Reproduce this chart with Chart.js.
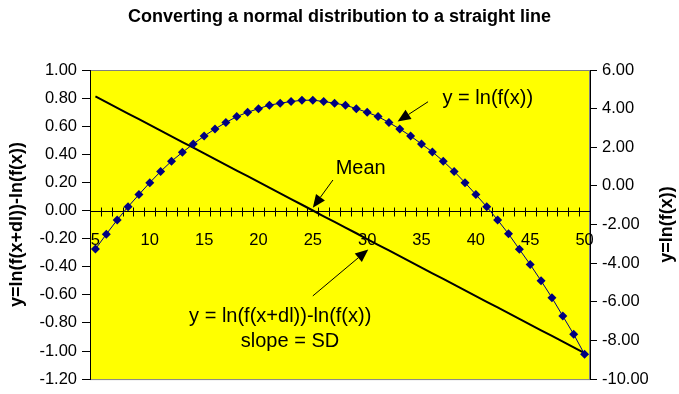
<!DOCTYPE html>
<html>
<head>
<meta charset="utf-8">
<script src="https://cdn.jsdelivr.net/npm/chart.js@4/dist/chart.umd.min.js"></script>
<style>
  html, body { margin: 0; padding: 0; background: #ffffff; }
  #wrap { width: 679px; height: 394px; }
</style>
</head>
<body>
<div id="wrap"><canvas id="c" width="679" height="394"></canvas></div>
<script>
// ---- data ----
const xValues = [5,6,7,8,9,10,11,12,13,14,15,16,17,18,19,20,21,22,23,24,25,26,27,28,29,30,31,32,33,34,35,36,37,38,39,40,41,42,43,44,45,46,47,48,49,50];
const xTickLabels = [5,10,15,20,25,30,35,40,45,50];
// y = ln(f(x))  (right axis)
const lnFValues = [-3.27,-2.50,-1.76,-1.08,-0.45,0.17,0.75,1.28,1.74,2.17,2.58,2.95,3.28,3.59,3.81,4.00,4.18,4.28,4.37,4.43,4.44,4.37,4.28,4.18,4.00,3.81,3.59,3.28,2.95,2.58,2.17,1.76,1.28,0.75,0.17,-0.45,-1.08,-1.76,-2.48,-3.28,-4.07,-4.91,-5.79,-6.74,-7.68,-8.72];
// y = ln(f(x+dl)) - ln(f(x))  (left axis)
const diffValues = [0.812,0.771,0.731,0.690,0.650,0.609,0.568,0.528,0.487,0.447,0.406,0.365,0.325,0.284,0.244,0.203,0.162,0.122,0.081,0.041,0.000,-0.041,-0.081,-0.122,-0.162,-0.203,-0.244,-0.284,-0.325,-0.365,-0.406,-0.447,-0.487,-0.528,-0.568,-0.609,-0.650,-0.690,-0.731,-0.771,-0.812,-0.853,-0.893,-0.934,-0.974,-1.015];

const FONT = '"Liberation Sans", Arial, Helvetica, sans-serif';

// annotations in data coordinates (x value, left-axis value)
const notes = [
  { text: 'y = ln(f(x))', x: 41.1, y: 0.795 },
  { text: 'Mean', x: 29.4, y: 0.30 },
  { text: 'y = ln(f(x+dl))-ln(f(x))', x: 22.0, y: -0.756 },
  { text: 'slope = SD', x: 22.9, y: -0.932 }
];
const arrows = [
  { from: [35.6, 0.774], to: [32.8, 0.633] },
  { from: [26.85, 0.217], to: [25.0, 0.02] },
  { from: [25.0, -0.608], to: [30.1, -0.277] }
];

const fmt2 = v => (Math.abs(v) < 1e-9 ? 0 : v).toFixed(2);

const decorPlugin = {
  id: 'decor',
  beforeDraw(chart) {
    const { ctx, chartArea: a } = chart;
    ctx.save();
    ctx.fillStyle = '#FFFF00';
    ctx.fillRect(a.left, a.top, a.right - a.left, a.bottom - a.top);
    ctx.strokeStyle = '#808080';
    ctx.lineWidth = 1;
    ctx.strokeRect(a.left + 0.5, a.top + 0.5, a.right - a.left - 1, a.bottom - a.top);
    ctx.restore();
  },
  beforeDatasetsDraw(chart) {
    const { ctx, chartArea: a } = chart;
    ctx.save();
    // x axis line at y = 0 with crossing tick marks at category boundaries
    const xs = chart.scales.x, ys = chart.scales.y;
    const y0 = Math.round(ys.getPixelForValue(0)) + 0.5;
    ctx.strokeStyle = '#000000';
    ctx.lineWidth = 1;
    ctx.beginPath();
    ctx.moveTo(a.left, y0); ctx.lineTo(a.right, y0);
    for (let i = 1; i < xValues.length; i++) {
      const px = Math.round(xs.getPixelForValue(i - 0.5)) + 0.5;
      ctx.moveTo(px, y0 - 4); ctx.lineTo(px, y0 + 5);
    }
    ctx.stroke();
    ctx.restore();
  },
  afterDatasetsDraw(chart) {
    const { ctx, chartArea: a } = chart;
    const xs = chart.scales.x, ys = chart.scales.y;
    const P = (x, y) => [xs.getPixelForValue(x - xValues[0]), ys.getPixelForValue(y)];
    ctx.save();
    ctx.fillStyle = '#000000';
    ctx.strokeStyle = '#000000';
    ctx.font = '20px ' + FONT;
    ctx.textAlign = 'center';
    ctx.textBaseline = 'middle';
    notes.forEach(n => { const [px, py] = P(n.x, n.y); ctx.fillText(n.text, px, py); });
    ctx.lineWidth = 1;
    arrows.forEach(ar => {
      const [x1, y1] = P(ar.from[0], ar.from[1]);
      const [x2, y2] = P(ar.to[0], ar.to[1]);
      const ang = Math.atan2(y2 - y1, x2 - x1);
      const L = 13, W = 5.5;
      const bx = x2 - L * Math.cos(ang), by = y2 - L * Math.sin(ang);
      ctx.beginPath(); ctx.moveTo(x1, y1); ctx.lineTo(bx, by); ctx.stroke();
      ctx.beginPath();
      ctx.moveTo(x2, y2);
      ctx.lineTo(bx + W * Math.sin(ang), by - W * Math.cos(ang));
      ctx.lineTo(bx - W * Math.sin(ang), by + W * Math.cos(ang));
      ctx.closePath(); ctx.fill();
    });
    // axis titles (both read bottom to top)
    ctx.font = 'bold 18px ' + FONT;
    const cy = (a.top + a.bottom) / 2;
    ctx.translate(17.5, cy); ctx.rotate(-Math.PI / 2);
    ctx.fillText('y=ln(f(x+dl))-ln(f(x))', 0, 0);
    ctx.setTransform(1, 0, 0, 1, 0, 0);
    ctx.translate(667.5, cy); ctx.rotate(-Math.PI / 2);
    ctx.fillText('y=ln(f(x))', 0, 0);
    ctx.restore();
  }
};

new Chart(document.getElementById('c'), {
  type: 'line',
  data: {
    labels: xValues,
    datasets: [
      {
        label: 'y = ln(f(x))',
        data: lnFValues,
        yAxisID: 'y2',
        borderColor: '#000080',
        backgroundColor: '#000080',
        borderWidth: 1,
        pointStyle: 'rectRot',
        pointRadius: 4.5,
        pointBorderWidth: 0,
        tension: 0
      },
      {
        label: 'y = ln(f(x+dl))-ln(f(x))',
        data: diffValues,
        yAxisID: 'y',
        borderColor: '#000000',
        borderWidth: 2,
        pointRadius: 0,
        tension: 0
      }
    ]
  },
  options: {
    responsive: false,
    animation: false,
    events: [],
    layout: { padding: { left: 0, right: 0, top: 0, bottom: 11 } },
    plugins: {
      legend: { display: false },
      tooltip: { enabled: false },
      title: {
        display: true,
        text: 'Converting a normal distribution to a straight line',
        color: '#000000',
        font: { family: FONT, size: 18, weight: 'bold' },
        padding: { top: 6, bottom: 42.4 }
      }
    },
    scales: {
      x: {
        type: 'category',
        position: { y: 0 },
        offset: true,
        grid: { display: false },
        border: { display: false },
        ticks: {
          autoSkip: false,
          maxRotation: 0,
          color: '#000000',
          font: { family: FONT, size: 16.5 },
          padding: 12,
          callback: function (value, index) {
            const l = xValues[index];
            return xTickLabels.includes(l) ? String(l) : '';
          }
        }
      },
      y: {
        position: 'left',
        min: -1.2,
        max: 1.0,
        afterFit(s) { s.width = 90; },
        grid: { drawOnChartArea: false, tickLength: 8, color: '#000000' },
        border: { display: true, color: '#000000' },
        ticks: {
          stepSize: 0.2,
          padding: 5,
          color: '#000000',
          font: { family: FONT, size: 16.5 },
          callback: v => fmt2(v)
        }
      },
      y2: {
        position: 'right',
        min: -10,
        max: 6,
        afterFit(s) { s.width = 89; },
        grid: { drawOnChartArea: false, tickLength: 7, color: '#000000' },
        border: { display: true, color: '#000000' },
        ticks: {
          stepSize: 2,
          padding: 5,
          color: '#000000',
          font: { family: FONT, size: 16.5 },
          callback: v => fmt2(v)
        }
      }
    }
  },
  plugins: [decorPlugin]
});
</script>
</body>
</html>
